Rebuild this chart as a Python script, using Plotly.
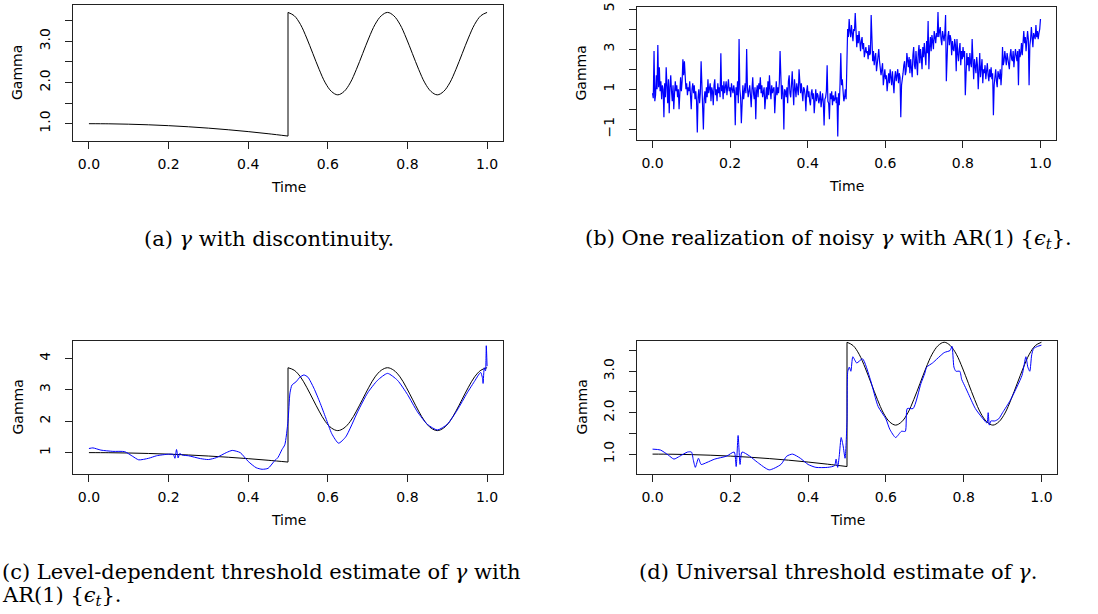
import plotly.graph_objects as go

W, H = 1098, 614

# true gamma: slow decay up to the break, then a cosine after t = 0.5
t_left = [0.0, 0.05, 0.1, 0.15, 0.2, 0.25, 0.3, 0.35, 0.4, 0.45, 0.5]
g_left = [1.0, 0.997, 0.988, 0.973, 0.952, 0.925, 0.892, 0.853, 0.808, 0.757, 0.7]
# after the break, read every 1/64 of time
g_right = [3.7, 3.62, 3.41, 3.08, 2.7, 2.32, 1.99, 1.78, 1.7, 1.78, 1.99, 2.32, 2.7, 3.08, 3.41, 3.62,
           3.7, 3.62, 3.41, 3.08, 2.7, 2.32, 1.99, 1.78, 1.7, 1.78, 1.99, 2.32, 2.7, 3.08, 3.41, 3.62, 3.7]

# noisy gamma with AR(1) errors, read every 1/511 of time
noisy = [
    0.8, 0.55, 2.9, 0.4, 0.7, 1.7, 1.0, 3.2, 1.1, 2.1, 0.9, 1.4, 0.5, 1.2, 1.0, -0.4,
    1.3, 0.6, 2.1, 1.0, 0.3, 1.5, -0.2, 1.1, 1.7, 0.9, 0.4, 1.2, 0.0, 0.8, 1.4, 0.9,
    1.2, 0.6, 1.0, 0.0, 1.3, 1.6, 0.9, 1.4, 2.5, 1.7, 2.4, 1.2, 1.0, 1.3, 0.7, 1.1,
    0.9, 1.4, 0.6, 0.0, 1.0, 1.3, 0.8, 1.2, 0.5, 0.9, 0.4, -1.15, 0.6, 1.0, 0.3, 0.8,
    2.4, 1.2, 0.2, -1.0, 0.5, 0.9, 0.3, 1.1, 0.6, 1.5, 0.8, 1.0, 1.3, 0.4, 1.1, 0.9,
    0.2, 1.2, 1.5, 0.7, 1.0, 0.4, 1.3, 0.8, 1.1, 0.6, 2.8, 0.9, 1.2, 0.5, 1.4, 0.8,
    1.0, 1.4, 0.7, 1.2, 1.5, 0.9, 1.1, 0.6, 1.3, 1.0, 0.8, 1.2, 0.9, -0.8, 1.1, 0.7,
    1.4, 0.3, 3.5, 1.0, 0.6, -0.7, 0.9, 1.2, 0.5, 1.0, 1.3, 0.8, 3.0, 1.1, 0.6, 0.9,
    1.2, 0.7, 0.1, 1.0, 1.6, 0.8, 0.5, 1.1, -0.5, 0.9, 1.2, 0.6, 1.3, 1.0, 1.6, 0.8,
    1.2, 0.6, 0.9, 1.1, 0.0, 0.8, 1.1, 0.5, 1.4, 0.7, 1.7, 1.0, 0.5, 1.2, 0.8, 1.0,
    1.1, -0.2, 0.9, 1.4, 0.7, 1.1, 0.8, 1.3, 2.9, 0.9, 0.5, 1.2, 0.8, -1.0, 1.0, 0.9,
    0.6, 1.1, 0.3, 1.4, 1.7, 0.8, 0.6, 1.2, 1.9, 1.0, 0.2, 1.5, 1.1, 0.6, 1.3, 0.9,
    0.7, 2.0, 1.0, 0.8, 1.3, 0.6, 0.4, 1.1, 1.0, 0.7, -0.1, 0.9, 1.2, 0.6, 0.9, 0.4,
    0.2, 0.8, 1.0, 0.5, 0.8, -0.2, 0.6, 1.0, 0.4, 0.8, 0.7, 0.3, 0.5, 0.9, 0.1, 0.6,
    0.8, 0.3, -0.8, 0.5, 0.6, 0.9, 2.2, 0.4, 0.3, -0.5, 0.8, 0.5, 0.9, 0.2, 0.7, 0.4,
    0.5, 0.9, 0.3, 0.6, -1.35, 0.8, 0.2, 1.3, 2.8, 1.2, 1.5, 0.9, 0.4, 0.6, 1.0, 0.5,
    2.2, 4.0, 3.6, 4.5, 3.9, 3.6, 4.2, 3.7, 3.4, 4.0, 3.9, 4.8, 3.5, 3.1, 3.7, 3.3,
    3.9, 3.5, 2.9, 3.4, 3.6, 3.0, 3.3, 2.6, 3.0, 3.1, 2.8, 2.9, 2.5, 3.2, 2.7, 2.8,
    4.7, 2.6, 2.4, 2.9, 2.2, 2.6, 2.8, 1.9, 2.3, 2.6, 3.0, 2.4, 2.1, 1.7, 2.0, 2.3,
    1.2, 1.8, 2.0, 1.5, 1.7, 0.9, 1.5, 1.8, 1.3, 2.0, 1.6, 1.2, 1.9, 1.5, 0.8, 1.6,
    1.9, 1.4, 1.7, 2.0, 1.3, 1.8, 1.6, -0.4, 1.2, 1.4, 1.8, 2.2, 2.4, 1.7, 1.9, 2.8,
    2.3, 2.1, 2.6, 1.8, 2.5, 2.0, 1.6, 2.7, 3.1, 2.2, 2.0, 2.9, 2.4, 1.7, 2.8, 3.2,
    2.3, 3.0, 2.6, 2.0, 3.1, 2.6, 3.3, 2.9, 2.2, 3.4, 2.8, 4.4, 2.0, 3.1, 3.6, 2.9,
    3.7, 3.4, 3.0, 3.9, 3.5, 3.3, 3.8, 3.6, 4.85, 3.6, 3.9, 4.1, 3.5, 3.2, 3.9, 3.6,
    3.4, 3.8, 4.7, 1.4, 3.3, 3.6, 3.9, 3.2, 3.7, 3.5, 2.7, 3.4, 3.0, 2.9, 3.5, 3.2,
    1.9, 3.5, 2.8, 2.4, 3.0, 3.3, 2.2, 2.9, 2.5, 3.1, 2.6, 2.9, 0.7, 2.4, 2.8, 2.2,
    2.6, 1.9, 2.8, 2.3, 2.1, 3.5, 2.4, 1.5, 2.5, 2.0, 1.8, 2.6, 2.2, 1.0, 2.4, 2.8,
    1.6, 2.1, 2.5, 1.3, 2.0, 1.8, 2.2, 1.5, 1.9, 2.3, 1.7, 1.4, 2.0, 1.6, 2.1, 1.5,
    1.8, -0.3, 1.2, 1.7, 2.0, 1.4, 1.1, 1.9, 1.6, 1.5, 2.0, 1.2, 1.8, 3.1, 2.2, 2.4,
    2.9, 2.6, 2.2, 2.8, 2.5, 2.3, 2.0, 2.7, 3.0, 2.5, 2.4, 2.9, 2.1, 2.6, 3.0, 2.7,
    2.4, 2.9, 1.2, 3.0, 2.6, 2.8, 3.3, 2.7, 3.2, 3.9, 3.3, 3.6, 2.9, 3.4, 3.9, 3.5,
    1.2, 3.2, 3.5, 4.1, 3.6, 3.1, 3.8, 3.7, 3.5, 4.2, 3.6, 3.9, 3.5, 3.8, 4.0, 4.5,
]

# level-dependent threshold estimate
t_c = [0.0, 0.01, 0.03, 0.06, 0.09, 0.11, 0.125, 0.15, 0.17, 0.2, 0.212, 0.216, 0.22, 0.224, 0.228,
       0.235, 0.25, 0.28, 0.3, 0.32, 0.345, 0.36, 0.38, 0.4, 0.42, 0.435, 0.45, 0.465, 0.475, 0.485,
       0.492, 0.5, 0.505, 0.51, 0.52, 0.53, 0.54, 0.55, 0.565, 0.58, 0.595, 0.61, 0.627, 0.645, 0.675,
       0.7, 0.725, 0.75, 0.775, 0.8, 0.825, 0.85, 0.875, 0.9, 0.925, 0.95, 0.97, 0.98, 0.984, 0.988,
       0.99, 0.993, 0.996, 0.998, 1.0]
est_c = [1.13, 1.15, 1.08, 1.04, 1.03, 0.88, 0.77, 0.82, 0.9, 0.95, 0.94, 0.82, 1.1, 0.83, 0.97,
         0.92, 0.9, 0.81, 0.78, 0.84, 1.0, 1.07, 1.0, 0.72, 0.52, 0.47, 0.5, 0.72, 0.85, 1.1,
         1.25, 2.0, 2.9, 3.15, 3.25, 3.4, 3.47, 3.4, 3.05, 2.6, 2.1, 1.6, 1.3, 1.5, 2.3,
         2.9, 3.3, 3.52, 3.3, 2.85, 2.3, 1.9, 1.72, 1.9, 2.35, 2.9, 3.3, 3.5, 3.55, 3.4,
         3.2, 3.7, 3.6, 4.4, 3.75]

# universal threshold estimate
t_d = [0.0, 0.02, 0.04, 0.055, 0.07, 0.09, 0.1, 0.105, 0.11, 0.118, 0.125, 0.14, 0.16, 0.19, 0.21,
       0.215, 0.22, 0.225, 0.23, 0.25, 0.27, 0.3, 0.33, 0.345, 0.36, 0.38, 0.4, 0.42, 0.45, 0.468,
       0.472, 0.476, 0.48, 0.485, 0.49, 0.495, 0.5, 0.502, 0.506, 0.51, 0.515, 0.525, 0.54, 0.56, 0.58,
       0.6, 0.61, 0.625, 0.64, 0.65, 0.655, 0.67, 0.69, 0.7, 0.705, 0.72, 0.75, 0.765, 0.77, 0.775,
       0.78, 0.79, 0.795, 0.8, 0.81, 0.83, 0.85, 0.86, 0.863, 0.866, 0.87, 0.88, 0.89, 0.9, 0.92,
       0.95, 0.96, 0.965, 0.97, 0.975, 0.98, 0.99, 1.0]
est_d = [1.12, 1.1, 0.98, 0.88, 0.95, 1.05, 1.05, 0.85, 0.68, 0.9, 0.75, 0.8, 0.88, 0.95, 1.05,
         0.7, 1.45, 0.75, 1.05, 0.95, 0.8, 0.62, 0.75, 0.95, 1.0, 0.9, 0.75, 0.68, 0.68, 0.72,
         0.88, 0.68, 0.95, 1.4, 1.2, 0.9, 1.8, 3.0, 3.1, 3.0, 3.35, 3.2, 3.3, 2.8, 2.15,
         1.85, 1.6, 1.4, 1.55, 1.55, 2.1, 2.1, 2.7, 2.95, 3.1, 3.2, 3.45, 3.5, 3.6, 3.1,
         3.0, 3.0, 2.8, 2.7, 2.5, 2.1, 1.85, 1.75, 2.0, 1.7, 1.8, 1.8, 1.85, 2.0, 2.3,
         2.9, 3.35, 3.1, 3.0, 3.4, 3.55, 3.6, 3.63]

x_ticks = [0.0, 0.2, 0.4, 0.6, 0.8, 1.0]
x_labels = ["0.0", "0.2", "0.4", "0.6", "0.8", "1.0"]
y_ticks_half = [1.0, 1.5, 2.0, 2.5, 3.0, 3.5]
y_labels_half = ["1.0", "", "2.0", "", "3.0", ""]
y_ticks_b = [-1, 0, 1, 2, 3, 4, 5]
y_labels_b = ["\u22121", "", "1", "", "3", "", "5"]
y_ticks_c = [1, 2, 3, 4]
y_labels_c = ["1", "2", "3", "4"]

captions = [
    "(a) <i>γ</i> with discontinuity.",
    "(b) One realization of noisy <i>γ</i> with AR(1) {<i>ϵ<sub>t</sub></i>}.",
    "(c) Level-dependent threshold estimate of <i>γ</i> with",
    "AR(1) {<i>ϵ<sub>t</sub></i>}.",
    "(d) Universal threshold estimate of <i>γ</i>.",
]

# plot boxes in pixels: left, right, top, bottom
boxes = [(73, 503, 5, 141), (637, 1056, 7, 140), (73, 503, 341, 474), (637, 1057, 341, 474)]
y_ranges = [[0.58, 3.88], [-1.53, 5.1], [0.32, 4.55], [0.52, 3.73]]
y_ticks = [(y_ticks_half, y_labels_half), (y_ticks_b, y_labels_b),
           (y_ticks_c, y_labels_c), (y_ticks_half, y_labels_half)]

SANS = "DejaVu Sans"
SERIF = "DejaVu Serif"


def px_x(x):
    return x / W


def px_y(y):
    return 1 - y / H


fig = go.Figure()


def add_truth(n):
    xa, ya = "x" + str(n), "y" + str(n)
    fig.add_trace(go.Scatter(x=t_left, y=g_left, mode="lines", line=dict(color="black", width=1, shape="spline"),
                             xaxis=xa, yaxis=ya))
    fig.add_trace(go.Scatter(x=[t_left[-1], t_left[-1]], y=[g_left[-1], g_right[0]], mode="lines",
                             line=dict(color="black", width=1), xaxis=xa, yaxis=ya))
    fig.add_trace(go.Scatter(y=g_right, x0=0.5, dx=1 / 64, mode="lines",
                             line=dict(color="black", width=1, shape="spline"), xaxis=xa, yaxis=ya))


add_truth(1)
fig.add_trace(go.Scatter(y=noisy, x0=0.0, dx=1 / 511, mode="lines", line=dict(color="#0000ff", width=1.2),
                         xaxis="x2", yaxis="y2"))
add_truth(3)
fig.add_trace(go.Scatter(x=t_c, y=est_c, mode="lines", line=dict(color="#0000ff", width=1, shape="spline", smoothing=0.6),
                         xaxis="x3", yaxis="y3"))
add_truth(4)
fig.add_trace(go.Scatter(x=t_d, y=est_d, mode="lines", line=dict(color="#0000ff", width=1, shape="spline", smoothing=0.6),
                         xaxis="x4", yaxis="y4"))

layout = dict(width=W, height=H, margin=dict(l=0, r=0, t=0, b=0, autoexpand=False), showlegend=False,
              paper_bgcolor="white", plot_bgcolor="white")
annotations = []
for i, (l, r, t, b) in enumerate(boxes):
    n = i + 1
    suffix = "" if n == 1 else str(n)
    axis_common = dict(showline=True, linecolor="#222", linewidth=1, mirror=True, showgrid=False,
                       zeroline=False, ticks="outside", ticklen=7, tickcolor="#222", automargin=False,
                       tickfont=dict(family=SANS, size=14, color="black"))
    layout["xaxis" + suffix] = dict(axis_common, domain=[px_x(l), px_x(r)], anchor="y" + str(n),
                                    range=[-0.04, 1.04], tickvals=x_ticks, ticktext=x_labels,
                                    ticklabelstandoff=3)
    tv, tt = y_ticks[i]
    layout["yaxis" + suffix] = dict(axis_common, domain=[px_y(b), px_y(t)], anchor="x" + str(n),
                                    range=y_ranges[i], tickvals=tv, ticktext=tt, tickangle=-90,
                                    ticklabelstandoff=9)
    annotations.append(dict(text="Gamma", x=px_x(l - 56), y=px_y((t + b) / 2), xref="paper", yref="paper",
                            xanchor="center", yanchor="middle", textangle=-90, showarrow=False,
                            font=dict(family=SANS, size=14, color="black")))
    annotations.append(dict(text="Time", x=px_x((l + r) / 2), y=px_y(b + 46), xref="paper", yref="paper",
                            xanchor="center", yanchor="middle", showarrow=False,
                            font=dict(family=SANS, size=14, color="black")))

cap_pos = [(142, 239), (583, 239), (0, 572), (0, 596), (637, 572)]
for text, (cx, cy) in zip(captions, cap_pos):
    annotations.append(dict(text=text, x=px_x(cx), y=px_y(cy), xref="paper", yref="paper",
                            xanchor="left", yanchor="middle", showarrow=False,
                            font=dict(family=SERIF, size=21, color="black")))

layout["annotations"] = annotations
fig.update_layout(**layout)
# drop the browser's default page margin so the figure sits at the window corner
fig.write_html("out.html", config={"displayModeBar": False},
               post_script="document.body.style.margin = '0';")
